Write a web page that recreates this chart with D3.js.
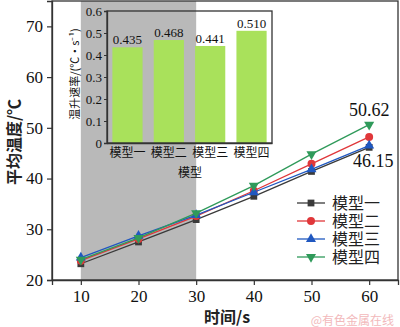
<!DOCTYPE html>
<html>
<head>
<meta charset="utf-8">
<script src="https://cdn.jsdelivr.net/npm/d3@7"></script>
<style>
  html, body { margin: 0; padding: 0; background: #fff; }
  svg { display: block; }
</style>
</head>
<body>
<svg id="chart" width="400" height="327"></svg>
<script>
// Time points (s)
const times = [10, 20, 30, 40, 50, 60];
// Mean temperature (°C) for each model
const model1 = [23.2, 27.5, 31.9, 36.5, 41.4, 46.15];
const model2 = [23.8, 28.1, 32.6, 37.6, 42.9, 48.2];
const model3 = [24.4, 28.7, 32.8, 37.3, 41.8, 46.5];
const model4 = [24.0, 28.3, 33.2, 38.6, 44.8, 50.62];
const seriesNames = ["模型一", "模型二", "模型三", "模型四"];
const xTicks = [10, 20, 30, 40, 50, 60];
const yTicks = [20, 30, 40, 50, 60, 70];

// Inset: temperature rise rate per model
const rateCategories = ["模型一", "模型二", "模型三", "模型四"];
const rateValues = [0.435, 0.468, 0.441, 0.510];
const rateTicks = [0, 0.1, 0.2, 0.3, 0.4, 0.5, 0.6];

const serif = "'Liberation Serif','Times New Roman',serif";
const cjk = "'Noto Sans CJK SC','Liberation Serif',serif";
const legendFont = "'Liberation Serif','Noto Sans CJK SC',serif";
const axisColor = "#333";

const svg = d3.select("#chart");

// ---- main plot ----
const M = { left: 52, right: 398, top: 1, bottom: 280 };
const x = d3.scaleLinear().domain([5, 65]).range([M.left, M.right]);
const y = d3.scaleLinear().domain([20, 75]).range([M.bottom, M.top]);

// shaded interval 10–30 s
svg.append("rect")
  .attr("x", x(10)).attr("y", M.top)
  .attr("width", x(30) - x(10)).attr("height", M.bottom - M.top)
  .attr("fill", "#b9b9b9");

// frame
svg.append("rect")
  .attr("x", M.left).attr("y", M.top)
  .attr("width", M.right - M.left).attr("height", M.bottom - M.top)
  .attr("fill", "none").attr("stroke", axisColor).attr("stroke-width", 1.3);

const xAxis = svg.append("g")
  .attr("transform", `translate(0,${M.bottom})`)
  .call(d3.axisBottom(x).tickValues(xTicks).tickSize(5).tickPadding(5));
const yAxis = svg.append("g")
  .attr("transform", `translate(${M.left},0)`)
  .call(d3.axisLeft(y).tickValues(yTicks).tickSize(5).tickPadding(4));
[xAxis, yAxis].forEach(g => {
  g.select(".domain").attr("stroke", axisColor).attr("stroke-width", 1.3);
  g.selectAll(".tick line").attr("stroke", axisColor).attr("stroke-width", 1.2);
  g.selectAll(".tick text").attr("fill", "#111")
    .style("font-family", serif).style("font-size", "17px");
});

// axis titles
svg.append("text")
  .attr("x", 227).attr("y", 323)
  .attr("text-anchor", "middle")
  .style("font-family", cjk).style("font-size", "16px").style("font-weight", "bold")
  .attr("fill", "#222")
  .text("时间/s");
svg.append("text")
  .attr("transform", "translate(20,142) rotate(-90)")
  .attr("text-anchor", "middle")
  .style("font-family", cjk).style("font-size", "16px").style("font-weight", "bold")
  .attr("fill", "#222")
  .text("平均温度/℃");

// ---- inset bar chart ----
const I = { left: 107, right: 272, top: 11, bottom: 143 };
const bx = d3.scaleBand().domain(rateCategories).range([I.left, I.right]).paddingInner(0.27).paddingOuter(0.13);
const by = d3.scaleLinear().domain([0, 0.6]).range([I.bottom, I.top]);

svg.append("g").selectAll("rect")
  .data(rateValues)
  .join("rect")
  .attr("x", (d, i) => bx(rateCategories[i]))
  .attr("y", d => by(d))
  .attr("width", bx.bandwidth())
  .attr("height", d => I.bottom - by(d))
  .attr("fill", "#a9e15b");

svg.append("g").selectAll("text")
  .data(rateValues)
  .join("text")
  .attr("x", (d, i) => bx(rateCategories[i]) + bx.bandwidth() / 2)
  .attr("y", d => by(d) - 3)
  .attr("text-anchor", "middle")
  .style("font-family", serif).style("font-size", "13px")
  .attr("fill", "#111")
  .text(d => d.toFixed(3));

svg.append("rect")
  .attr("x", I.left).attr("y", I.top)
  .attr("width", I.right - I.left).attr("height", I.bottom - I.top)
  .attr("fill", "none").attr("stroke", axisColor).attr("stroke-width", 1.3);

const iy = svg.append("g")
  .attr("transform", `translate(${I.left},0)`)
  .call(d3.axisLeft(by).tickValues(rateTicks).tickFormat(d => d === 0 ? "0" : d.toFixed(1)).tickSize(3).tickPadding(2));
const ix = svg.append("g")
  .attr("transform", `translate(0,${I.bottom})`)
  .call(d3.axisBottom(bx).tickSize(0).tickPadding(5));
[iy, ix].forEach(g => {
  g.select(".domain").attr("stroke", axisColor).attr("stroke-width", 1.3);
  g.selectAll(".tick line").attr("stroke", axisColor);
});
iy.selectAll(".tick text").attr("fill", "#111")
  .style("font-family", serif).style("font-size", "13px");
ix.selectAll(".tick text").attr("fill", "#111")
  .style("font-family", cjk).style("font-size", "12px");

svg.append("text")
  .attr("x", 190).attr("y", 177)
  .attr("text-anchor", "middle")
  .style("font-family", cjk).style("font-size", "12px")
  .attr("fill", "#111")
  .text("模型");
svg.append("text")
  .attr("transform", "translate(79,74) rotate(-90)")
  .attr("text-anchor", "middle")
  .style("font-family", cjk).style("font-size", "11px")
  .attr("fill", "#111")
  .text("温升速率/(℃·s⁻¹)");

// ---- line series ----
const series = [
  { name: seriesNames[0], values: model1, color: "#3a3a3a", shape: d3.symbolSquare, size: 46, rot: 0 },
  { name: seriesNames[1], values: model2, color: "#e0373a", shape: d3.symbolCircle, size: 50, rot: 0 },
  { name: seriesNames[2], values: model3, color: "#2058c0", shape: d3.symbolTriangle, size: 44, rot: 0 },
  { name: seriesNames[3], values: model4, color: "#2f9a5a", shape: d3.symbolTriangle, size: 44, rot: 180 }
];

const line = d3.line().x((d, i) => x(times[i])).y(d => y(d));

series.forEach(s => {
  svg.append("path")
    .datum(s.values)
    .attr("d", line)
    .attr("fill", "none")
    .attr("stroke", s.color)
    .attr("stroke-width", 1.3);
  svg.append("g").selectAll("path")
    .data(s.values)
    .join("path")
    .attr("d", d3.symbol().type(s.shape).size(s.size))
    .attr("transform", (d, i) => `translate(${x(times[i])},${y(d)}) rotate(${s.rot})`)
    .attr("fill", s.color);
});

// end-point value labels
svg.append("text")
  .attr("x", x(60)).attr("y", y(model4[5]) - 9)
  .attr("text-anchor", "middle")
  .style("font-family", serif).style("font-size", "18px")
  .attr("fill", "#111")
  .text(model4[5].toFixed(2));
svg.append("text")
  .attr("x", x(60) + 4).attr("y", y(model1[5]) + 20)
  .attr("text-anchor", "middle")
  .style("font-family", serif).style("font-size", "18px")
  .attr("fill", "#111")
  .text(model1[5].toFixed(2));

// ---- legend ----
const legend = svg.append("g");
series.forEach((s, i) => {
  const ly = 203 + i * 18;
  legend.append("line")
    .attr("x1", 297).attr("x2", 325).attr("y1", ly).attr("y2", ly)
    .attr("stroke", s.color).attr("stroke-width", 1.3);
  legend.append("path")
    .attr("d", d3.symbol().type(s.shape).size(s.size))
    .attr("transform", `translate(311,${ly}) rotate(${s.rot})`)
    .attr("fill", s.color);
  legend.append("text")
    .attr("x", 332).attr("y", ly)
    .attr("dy", "0.36em")
    .style("font-family", legendFont).style("font-size", "16px")
    .attr("fill", "#222")
    .text(s.name);
});

// source mark
svg.append("text")
  .attr("x", 394).attr("y", 325)
  .attr("text-anchor", "end")
  .style("font-family", "'Noto Sans CJK SC',sans-serif").style("font-size", "12px")
  .attr("fill", "#f2b9bb")
  .text("@有色金属在线");
</script>
</body>
</html>
